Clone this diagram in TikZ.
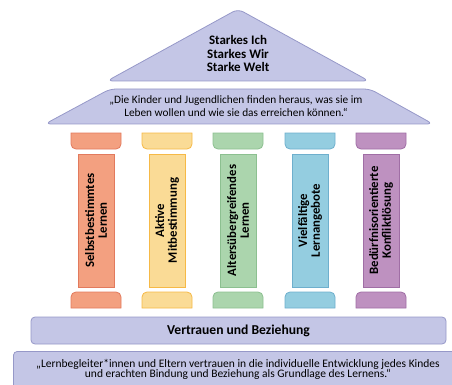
\documentclass[tikz,border=0pt]{standalone}
\usepackage{fontspec}
\setmainfont{Carlito}
\usepackage{tikz}
\definecolor{lav}{RGB}{196,198,230}
\definecolor{lavline}{RGB}{150,152,200}
\definecolor{orF}{RGB}{243,160,128}
\definecolor{orL}{RGB}{226,122,93}
\definecolor{yeF}{RGB}{250,219,150}
\definecolor{yeL}{RGB}{246,185,70}
\definecolor{grF}{RGB}{171,213,173}
\definecolor{grL}{RGB}{140,192,144}
\definecolor{blF}{RGB}{148,205,224}
\definecolor{blL}{RGB}{110,175,205}
\definecolor{puF}{RGB}{190,145,192}
\definecolor{puL}{RGB}{160,110,165}

\begin{document}
\begin{tikzpicture}[x=1pt,y=-1pt,
        roof/.style={draw=lavline,fill=lav,line width=0.8pt,rounded corners=6pt},
        shaft/.style={draw=#1L,fill=#1F,line width=0.8pt,minimum width=36pt,minimum height=133pt,inner sep=0pt}]
        \useasboundingbox (0,0) rectangle (452,385);
        \clip (0,0) rectangle (452,385);
        \draw[roof] (107,81) -- (238,9) -- (369,81) -- cycle;
        \node[align=center,font=\bfseries\fontsize{13}{13.3}\selectfont] (top) at (238,53.5) {Starkes Ich\\Starkes Wir\\Starke Welt};
        \draw[roof] (110,89) -- (370,89) -- (433,124) -- (45,124) -- cycle;
        \node[align=center,font=\fontsize{11.3}{13}\selectfont] (aim) at (236,106.5) {„Die Kinder und Jugendlichen finden heraus, was sie im\\Leben wollen und wie sie das erreichen können.“};
        \foreach \x/\c/\i/\Label in {96/or/1/{Selbstbestimmtes\\Lernen}, 167/ye/2/{Aktive\\Mitbestimmung}, 238/gr/3/{Altersübergreifendes\\Lernen}, 310/bl/4/{Vielfältige\\Lernangebote}, 381/pu/5/{Bedürfnisorientierte\\Konfliktlösung}}
        {
        \draw[draw=\c L,fill=\c F,line width=0.8pt] (\x-25,133) -- (\x+25,133) -- (\x+25,144)
            .. controls (\x+25,146.8) and (\x+22.8,149) .. (\x+20,149) -- (\x-20,149)
            .. controls (\x-22.8,149) and (\x-25,146.8) .. (\x-25,144) -- cycle;
        \draw[draw=\c L,fill=\c F,line width=0.8pt] (\x-25,308) -- (\x+25,308) -- (\x+25,297)
            .. controls (\x+25,294.2) and (\x+22.8,292) .. (\x+20,292) -- (\x-20,292)
            .. controls (\x-22.8,292) and (\x-25,294.2) .. (\x-25,297) -- cycle;
        \node[shaft=\c] (shaft\i) at (\x,220.5) {};
        \node[rotate=90,align=center,font=\bfseries\fontsize{12.8}{12.7}\selectfont] at (shaft\i) {\Label};
        }
        \node[draw=lavline,fill=lav,line width=0.8pt,rounded corners=4pt,minimum width=415pt,minimum height=27pt,font=\bfseries\fontsize{13.6}{15}\selectfont] (base) at (238.5,330.5) {Vertrauen und Beziehung};
        \node[draw=lavline,fill=lav,line width=0.8pt,rounded corners=4pt,minimum width=450pt,minimum height=46pt,anchor=north west] (ground) at (13,351) {};
        \node[align=center,font=\fontsize{11.5}{10.5}\selectfont] (trust) at (238,369.5) {„Lernbegleiter*innen und Eltern vertrauen in die individuelle Entwicklung jedes Kindes\\und erachten Bindung und Beziehung als Grundlage des Lernens.“};
\end{tikzpicture}
\end{document}
